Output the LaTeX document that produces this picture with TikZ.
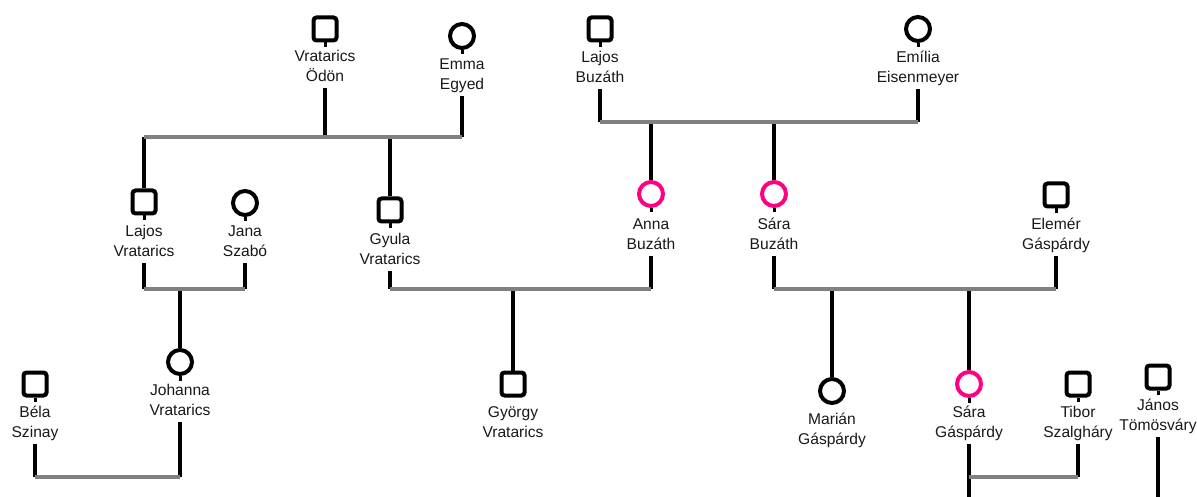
\documentclass[tikz,border=0pt]{standalone}
\usepackage{fontspec}
\setmainfont{Liberation Sans}
\usetikzlibrary{backgrounds}
\definecolor{pinkc}{RGB}{255,0,128}
\definecolor{barc}{RGB}{128,128,128}
\definecolor{txtc}{RGB}{25,25,25}
\newcommand\twoln[2]{\strut #1\\\strut #2}
\begin{document}
\begin{tikzpicture}[x=1pt,y=-1pt,
  sym/.style={draw=black, line width=4pt, inner sep=0pt, fill=white},
  male/.style={sym, rectangle, rounded corners=3pt, minimum size=23pt},
  female/.style={sym, circle, minimum size=24pt},
  pinkf/.style={female, draw=pinkc},
  lbl/.style={anchor=north, yshift=8.35pt, inner sep=0pt, align=center, text=txtc,
    font=\fontsize{15.6}{20.5}\selectfont},
  vline/.style={line width=4pt, draw=black},
  bar/.style={line width=3.6pt, draw=barc},
  stub/.style={line width=3pt, draw=black}]
\useasboundingbox (0,0) rectangle (1197,497);

% symbols
\node[male]   (odon)    at (325,29)  {};
\node[female] (emma)    at (462,36)  {};
\node[male]   (lajosB)  at (600,29)  {};
\node[female] (emilia)  at (918,29)  {};
\node[male]   (lajosV)  at (144,202) {};
\node[female] (jana)    at (245,203) {};
\node[male]   (gyula)   at (390,210) {};
\node[pinkf]  (anna)    at (651,194) {};
\node[pinkf]  (saraB)   at (774,194) {};
\node[male]   (elemer)  at (1056,195) {};
\node[female] (johanna) at (180,362) {};
\node[male]   (bela)    at (35,384)  {};
\node[male]   (gyorgy)  at (513,384) {};
\node[female] (marian)  at (832,391) {};
\node[pinkf]  (saraG)   at (969,384) {};
\node[male]   (tibor)   at (1078,384) {};
\node[male]   (janos)   at (1158,377) {};

% labels
\node[lbl] (odonL)    at (325,55)  {\twoln{Vratarics}{Ödön}};
\node[lbl] (emmaL)    at (462,63)  {\twoln{Emma}{Egyed}};
\node[lbl] (lajosBL)  at (600,56)  {\twoln{Lajos}{Buzáth}};
\node[lbl] (emiliaL)  at (918,56)  {\twoln{Emília}{Eisenmeyer}};
\node[lbl] (lajosVL)  at (144,230) {\twoln{Lajos}{Vratarics}};
\node[lbl] (janaL)    at (245,230) {\twoln{Jana}{Szabó}};
\node[lbl] (gyulaL)   at (390,238) {\twoln{Gyula}{Vratarics}};
\node[lbl] (annaL)    at (651,223) {\twoln{Anna}{Buzáth}};
\node[lbl] (saraBL)   at (774,223) {\twoln{Sára}{Buzáth}};
\node[lbl] (elemerL)  at (1056,223) {\twoln{Elemér}{Gáspárdy}};
\node[lbl] (johannaL) at (180,389) {\twoln{Johanna}{Vratarics}};
\node[lbl] (belaL)    at (35,411)  {\twoln{Béla}{Szinay}};
\node[lbl] (gyorgyL)  at (513,411) {\twoln{György}{Vratarics}};
\node[lbl] (marianL)  at (832,418) {\twoln{Marián}{Gáspárdy}};
\node[lbl] (saraGL)   at (969,411) {\twoln{Sára}{Gáspárdy}};
\node[lbl] (tiborL)   at (1078,411) {\twoln{Tibor}{Szalgháry}};
\node[lbl] (janosL)   at (1158,404) {\twoln{János}{Tömösváry}};

% stubs under symbols
\foreach \n in {odon,emma,lajosB,emilia,lajosV,jana,gyula,anna,saraB,elemer,johanna,bela,saraG,tibor,janos}
  \draw[stub] (\n.south) -- ++(0,4.5);

\coordinate (barA) at (0,137);
\coordinate (barB) at (0,122);
\coordinate (barC) at (0,289);
\coordinate (barD) at (0,477);
\coordinate (edge) at (0,497);

\begin{pgfonlayer}{background}
\fill[white] (0,0) rectangle (1197,497);
% parents down to bars
\draw[vline] (odonL.south)   -- (odon |- barA);
\draw[vline] (emmaL.south)   -- (emma |- barA);
\draw[vline] (lajosBL.south) -- (lajosB |- barB);
\draw[vline] (emiliaL.south) -- (emilia |- barB);
\draw[vline] (lajosVL.south) -- (lajosV |- barC);
\draw[vline] (janaL.south)   -- (jana |- barC);
\draw[vline] (gyulaL.south)  -- (gyula |- barC);
\draw[vline] (annaL.south)   -- (anna |- barC);
\draw[vline] (saraBL.south)  -- (saraB |- barC);
\draw[vline] (elemerL.south) -- (elemer |- barC);
\draw[vline] (johannaL.south) -- (johanna |- barD);
\draw[vline] (belaL.south)   -- (bela |- barD);
\draw[vline] (saraGL.south)  -- (saraG |- barD);
\draw[vline] (tiborL.south)  -- (tibor |- barD);
\draw[vline] (janosL.south)  -- (janos |- edge);
% bars down to children
\draw[vline] (lajosV |- barA) -- (lajosV.north);
\draw[vline] (gyula |- barA)  -- (gyula.north);
\draw[vline] (anna |- barB)   -- (anna.north);
\draw[vline] (saraB |- barB)  -- (saraB.north);
\draw[vline] (johanna |- barC) -- (johanna.north);
\draw[vline] (gyorgy |- barC) -- (gyorgy.north);
\draw[vline] (marian |- barC) -- (marian.north);
\draw[vline] (saraG |- barC)  -- (saraG.north);
\draw[vline] (saraG |- barD)  -- (saraG |- edge);
% couple bars
\draw[bar] (lajosV |- barA) -- (emma |- barA);
\draw[bar] (lajosB |- barB) -- (emilia |- barB);
\draw[bar] (lajosV |- barC) -- (jana |- barC);
\draw[bar] (gyula |- barC)  -- (anna |- barC);
\draw[bar] (saraB |- barC)  -- (elemer |- barC);
\draw[bar] (bela |- barD)   -- (johanna |- barD);
\draw[bar] (saraG |- barD)  -- (tibor |- barD);
\end{pgfonlayer}
\end{tikzpicture}
\end{document}
